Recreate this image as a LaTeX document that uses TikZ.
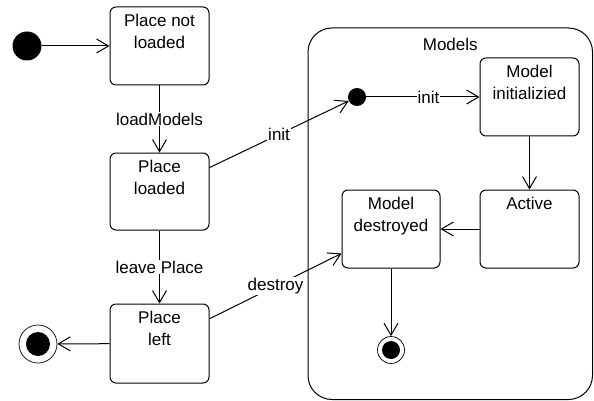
\documentclass[tikz,border=0pt]{standalone}
\usepackage{fontspec}
\setmainfont{Liberation Sans}
\usetikzlibrary{arrows.meta}

\begin{document}
\begin{tikzpicture}[x=1pt,y=-1pt,
	every node/.style={font=\fontsize{17}{22}\selectfont},
	state/.style={draw, line width=1pt, rounded corners=6pt, minimum width=99pt, minimum height=78pt, inner sep=0pt},
	txt/.style={anchor=north, align=center, inner sep=0pt, yshift=-7pt},
	tr/.style={draw, line width=1pt, -{Straight Barb[length=12pt,width=14pt]}},
	lbl/.style={fill=white, inner sep=1pt},
	dot/.style={circle, fill=black, inner sep=0pt},
	ring/.style={circle, draw, line width=0.7pt, inner sep=0pt}]
\useasboundingbox (0,0) rectangle (594,401);

\node[draw, line width=1pt, rounded corners=24pt, minimum width=284.5pt, minimum height=371.5pt,
	label={[txt, yshift=-3pt]north:Models}] (models) at (450.25,213.75) {};

\node[dot, minimum size=29pt] (start) at (27,46) {};
\node[state, label={[txt]north:{Place not\\loaded}}] (pnl) at (159.5,46) {};
\node[state, minimum height=77pt, label={[txt]north:{Place\\loaded}}] (pld) at (159.5,191.5) {};
\node[state, minimum height=79pt, label={[txt]north:{Place\\left}}] (plf) at (159.5,343.5) {};
\node[ring, minimum size=38pt] (stop) at (38,344) {};
\node[dot, minimum size=24pt] (stopin) at (stop) {};

\node[dot, minimum size=18pt] (istart) at (357,97) {};
\node[state, label={[txt]north:{Model\\initializied}}] (mi) at (529.5,97) {};
\node[state, label={[txt]north:Active}] (act) at (529.5,229) {};
\node[state, minimum width=98pt, label={[txt]north:{Model\\destroyed}}] (md) at (391,229) {};
\node[ring, minimum size=27pt] (istop) at (391,350) {};
\node[dot, minimum size=18pt] (istopin) at (istop) {};

\draw[tr] (start) -- (pnl);
\draw[tr] (pnl) -- node[lbl] {loadModels} (pld);
\draw[tr] (pld) -- node[lbl] {leave Place} (plf);
\draw[tr] (plf) -- (stop);
\draw[tr] (pld) -- node[lbl] {init} (istart);
\draw[tr] (plf) -- node[lbl] {destroy} (md);

\draw[tr] (istart) -- node[lbl, pos=0.55] {init} (mi);
\draw[tr] (mi) -- (act);
\draw[tr] (act) -- (md);
\draw[tr] (md) -- (istop);
\end{tikzpicture}
\end{document}
